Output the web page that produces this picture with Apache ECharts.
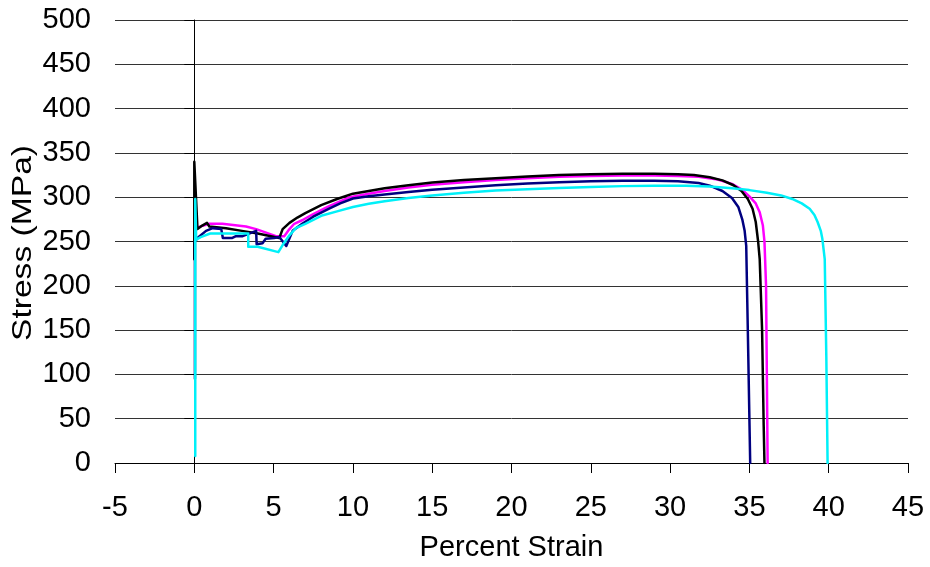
<!DOCTYPE html>
<html>
<head>
<meta charset="utf-8">
<script src="https://cdn.jsdelivr.net/npm/echarts@6/dist/echarts.min.js"></script>
<style>
  html, body { margin: 0; padding: 0; background: #ffffff; }
  #chart { width: 930px; height: 567px; }
</style>
</head>
<body>
<div id="chart"></div>
<script>
// Tensile test curves: stress (MPa) against percent strain for four specimens.

const xTicks = { min: -5, max: 45, step: 5 };
const yTicks = { min: 0, max: 500, step: 50 };

// Specimen drawn in black
const blackStrain = [0, 0, 0.2, 0.5, 0.8, 0.95, 2.0, 3.0, 4.0, 5.36, 5.57, 6.0, 6.5, 7.0, 8.0, 9.0, 10.0, 11.0, 12.0, 13.5, 15.0, 17.0, 19.0, 21.0, 23.0, 25.0, 27.0, 29.0, 30.5, 31.5, 32.5, 33.3, 34.0, 34.5, 34.9, 35.2, 35.4, 35.55, 35.65, 35.8, 35.9, 35.95];
const blackStress = [230, 340, 264, 268, 271, 267, 265, 262, 259, 254, 264, 271, 277, 282, 291, 298, 304, 307, 310, 313.5, 316.5, 319.5, 321.5, 323.5, 325, 326, 326.5, 326.5, 326, 325, 322.5, 319, 313.5, 307, 298, 287, 272, 250, 230, 150, 43, 0];

// Specimen drawn in magenta
const magentaStrain = [0.2, 0.95, 1.77, 3.26, 3.9, 5.15, 5.67, 6.0, 6.3, 6.8, 7.5, 8.5, 9.8, 11.0, 12.0, 13.5, 15.0, 17.0, 19.0, 21.0, 23.0, 25.0, 27.0, 29.0, 30.5, 31.8, 33.0, 33.9, 34.5, 35.0, 35.4, 35.65, 35.85, 35.95, 36.05, 36.15];
const magentaStress = [266, 270, 270, 267, 264, 256, 256, 264, 270, 274, 281, 290, 300, 304, 307, 311, 314, 317, 319.5, 321.5, 323, 324, 324.5, 324.5, 324, 323, 320, 315, 309, 301, 293, 283, 268, 250, 200, 0];

// Specimen drawn in navy
const navyStrain = [0.04, 0.04, 0.2, 0.74, 1.16, 1.7, 1.8, 2.4, 2.63, 3.05, 3.15, 3.9, 3.93, 4.3, 4.5, 5.04, 5.36, 5.8, 6.2, 6.8, 7.5, 8.5, 9.2, 10.0, 11.0, 12.0, 13.5, 15.0, 17.0, 19.0, 21.0, 23.0, 25.0, 27.0, 29.0, 30.5, 31.8, 32.5, 33.3, 33.9, 34.3, 34.55, 34.7, 34.8, 34.9, 35.05];
const navyStress = [95, 250, 254, 262, 265, 264, 254, 254, 256, 256, 258, 262, 247, 248, 253, 254, 255, 245, 262, 270, 278, 287, 293, 298.5, 301, 303, 306, 308.5, 311, 313.5, 315.5, 317, 318, 318.5, 318.5, 318, 316, 313, 307, 299, 289, 275, 262, 245, 150, 0];

// Specimen drawn in cyan
const cyanStrain = [0.06, 0.06, 0.12, 0.4, 1.0, 3.4, 3.4, 4.0, 5.3, 5.57, 6.0, 6.4, 7.0, 8.0, 9.0, 10.0, 11.0, 12.0, 13.5, 15.0, 17.0, 19.0, 21.0, 23.0, 25.0, 27.0, 29.0, 31.0, 32.5, 33.9, 35.0, 36.1, 37.0, 37.7, 38.3, 38.8, 39.1, 39.3, 39.5, 39.6, 39.75, 39.85, 39.93];
const cyanStress = [8, 298, 252, 255, 259, 259, 244, 244, 238, 246, 257, 265, 270, 279, 284, 289, 292.5, 295.5, 299, 302, 305, 307.5, 309, 310.5, 311.5, 312.5, 313, 313, 312, 310, 308, 305, 302, 298, 293, 287, 280, 272, 262, 253, 230, 120, 0];

function pairs(xs, ys) {
  return xs.map((x, i) => [x, ys[i]]);
}

const FONT = '"Liberation Sans", Arial, sans-serif';

function curve(name, color, xs, ys) {
  return {
    name: name,
    type: 'line',
    data: pairs(xs, ys),
    showSymbol: false,
    symbol: 'none',
    lineStyle: { color: color, width: 2.5, join: 'round', cap: 'round' },
    itemStyle: { color: color },
    animation: false
  };
}

const chart = echarts.init(document.getElementById('chart'), null, { renderer: 'canvas' });

chart.setOption({
  backgroundColor: '#ffffff',
  animation: false,
  grid: { left: 115, right: 22, top: 20, bottom: 102, containLabel: false },
  // Vertical axis title, stretched along its length
  graphic: [{
    type: 'text',
    x: 23,
    y: 243,
    rotation: Math.PI / 2,
    scaleX: 1.2,
    style: {
      text: 'Stress (MPa)',
      fontFamily: FONT,
      fontSize: 28,
      fill: '#000',
      textAlign: 'center',
      textVerticalAlign: 'middle',
      align: 'center',
      verticalAlign: 'middle'
    }
  }],
  xAxis: {
    type: 'value',
    min: xTicks.min,
    max: xTicks.max,
    interval: xTicks.step,
    name: 'Percent Strain',
    nameLocation: 'middle',
    nameGap: 70,
    nameTextStyle: { fontFamily: FONT, fontSize: 29, color: '#000' },
    axisLine: { show: true, onZero: false, lineStyle: { color: '#000', width: 1 } },
    axisTick: { show: true, length: 10, lineStyle: { color: '#000' } },
    axisLabel: { fontFamily: FONT, fontSize: 29, color: '#000', margin: 30 },
    splitLine: { show: false }
  },
  yAxis: {
    type: 'value',
    min: yTicks.min,
    max: yTicks.max,
    interval: yTicks.step,
    axisLine: { show: true, lineStyle: { color: '#000', width: 1 } },
    axisTick: { show: true, length: 10, lineStyle: { color: '#000' } },
    axisLabel: { fontFamily: FONT, fontSize: 29, color: '#000', margin: 24 },
    splitLine: { show: true, lineStyle: { color: '#333', width: 1 } }
  },
  series: [
    curve('Magenta', '#ff00ff', magentaStrain, magentaStress),
    curve('Black', '#000000', blackStrain, blackStress),
    curve('Navy', '#000080', navyStrain, navyStress),
    curve('Cyan', '#00f0f8', cyanStrain, cyanStress)
  ]
});
</script>
</body>
</html>
